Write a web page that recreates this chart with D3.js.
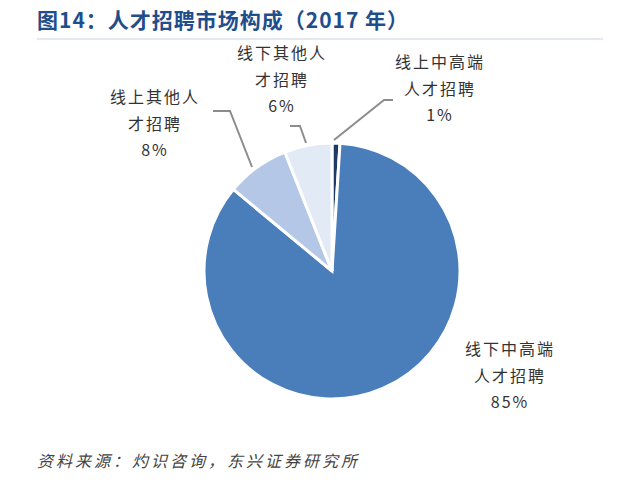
<!DOCTYPE html><html><head><meta charset="utf-8"><script src="https://cdn.jsdelivr.net/npm/d3@7"></script>
<style>body{margin:0;background:#fff}</style></head><body><svg id="c" width="640" height="491"></svg>
<script>
const categories=["线上中高端人才招聘","线下中高端人才招聘","线上其他人才招聘","线下其他人才招聘"];
const values=[1,85,8,6];
const colors=["#1f3a60","#4a7ebb","#b4c7e7","#e2eaf6"];
const labelLines=[["线上中高端","人才招聘","1%"],["线下中高端","人才招聘","85%"],["线上其他人","才招聘","8%"],["线下其他人","才招聘","6%"]];
const labelPos=[[440,68],[510,355],[155,103],[282,59]];
const leaders=[[[334,140],[384,100],[393,100]],null,[[213,111],[230,111],[252,167]],[[290,126],[300,126],[306,143]]];
const svg=d3.select("#c");
svg.append("text").attr("x",37).attr("y",28).attr("font-family","Noto Sans CJK SC").attr("font-weight","bold").attr("font-size",21).attr("letter-spacing",1).attr("fill","#1f4e8c").text("图14：人才招聘市场构成（2017 年）");
svg.append("line").attr("x1",37).attr("x2",603).attr("y1",39).attr("y2",39).attr("stroke","#c9d3e3").attr("stroke-width",1);
const pie=d3.pie().sort(null).value(d=>d)(values);
const arc=d3.arc().innerRadius(0).outerRadius(128);
const g=svg.append("g").attr("transform","translate(332,271)");
g.selectAll("path").data(pie).join("path").attr("d",arc).attr("fill",(d,i)=>colors[i]).attr("stroke","#fff").attr("stroke-width",3);
const line=d3.line();
leaders.forEach(l=>{if(l)svg.append("path").attr("d",line(l)).attr("fill","none").attr("stroke","#8c8c8c").attr("stroke-width",2);});
labelLines.forEach((ls,i)=>{ls.forEach((t,j)=>svg.append("text").attr("x",labelPos[i][0]).attr("y",labelPos[i][1]+j*26.5).attr("text-anchor","middle").attr("font-family","Noto Sans CJK SC").attr("font-size",16).attr("letter-spacing",2).attr("fill","#333").text(t));});
svg.append("text").attr("x",37).attr("y",467).attr("font-family","Noto Sans CJK SC").attr("font-style","italic").attr("font-size",16).attr("letter-spacing",3).attr("fill","#444").text("资料来源：灼识咨询，东兴证券研究所");
</script></body></html>
